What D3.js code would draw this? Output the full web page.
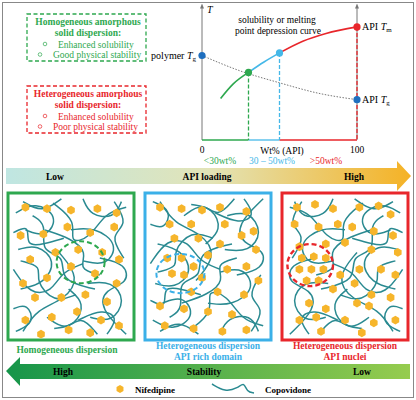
<!DOCTYPE html>
<html><head><meta charset="utf-8">
<script src="https://cdn.jsdelivr.net/npm/d3@7"></script>
<style>body{margin:0;background:#fff}</style>
</head><body><svg id="c" width="416" height="400" font-family="'Liberation Serif','DejaVu Serif','Times New Roman',serif"></svg>
<script>
// ---- data ----
const solubility = [[12,32],[20,43],[30,52],[40,60],[50,67],[65,76],[80,82],[100,87]];
const tgLine = [[0,65],[25,53],[50,44],[75,36],[100,31]];
const keyPoints = [
  {w:0,t:65,c:"#1f6fbf",label:"polymer ",sub:"g",side:"left"},
  {w:30,t:52,c:"#2ea84f"},
  {w:50,t:67,c:"#45b8e8"},
  {w:100,t:87,c:"#e8262b",label:"API ",sub:"m",side:"right"},
  {w:100,t:31,c:"#1f6fbf",label:"API ",sub:"g",side:"right"}];
const ranges = [{from:0,to:30,c:"#2ea84f",label:"<30wt%",lx:220},{from:30,to:50,c:"#45b8e8",label:"30 – 50wt%",lx:272},{from:50,to:100,c:"#e8262b",label:">50wt%",lx:326}];
const loadingLabels = ["Low","API loading","High"];
const stabilityLabels = ["High","Stability","Low"];
const panels = [
 {c:"#2ea84f",cap:["Homogeneous dispersion"],ring:[58,47,20,15]},
 {c:"#3bb0e8",cap:["Heterogeneous dispersion","API rich domain"],ring:[27,55,20,14]},
 {c:"#e8262b",cap:["Heterogeneous dispersion","API nuclei"],ring:[21,49,19,15]}];
const hexes = [
 [[12,8],[30,9],[50,10],[72,9],[88,12],[8,28],[27,27],[47,22],[66,26],[86,22],[16,45],[37,40],[56,38],[76,40],[90,45],[10,62],[30,58],[50,50],[70,55],[88,62],[20,72],[42,72],[62,70],[80,75],[12,88],[34,86],[55,82],[75,88],[90,92],[25,98],[48,95],[66,97]],
 [[10,8],[28,9],[45,10],[60,8],[82,11],[18,20],[36,20],[64,20],[88,25],[22,30],[42,30],[60,34],[78,28],[90,38],[50,42],[16,44],[28,44],[38,50],[20,55],[30,56],[45,58],[66,52],[82,50],[92,60],[36,68],[58,68],[80,70],[10,78],[30,80],[50,82],[70,84],[14,92],[38,94],[62,96],[82,95]],
 [[10,8],[25,6],[40,9],[62,8],[78,7],[88,13],[8,20],[28,22],[44,20],[56,22],[74,25],[90,28],[12,36],[34,34],[50,33],[72,38],[94,40],[14,44],[24,43],[34,44],[12,52],[22,52],[32,52],[18,60],[28,60],[46,56],[62,52],[80,52],[92,56],[40,66],[58,62],[72,70],[88,72],[60,76],[70,78],[20,76],[34,80],[12,88],[26,86],[50,88],[74,90],[92,88],[30,96],[64,97]]];
const chains = [
 [[4,12],[20,4],[40,14],[30,30],[12,24]],
 [[35,5],[55,18],[48,34],[66,30],[78,12],[96,8]],
 [[6,38],[22,34],[38,46],[28,62],[8,66]],
 [[50,24],[70,22],[90,34],[80,50],[60,46]],
 [[40,40],[58,58],[44,74],[22,80],[10,96]],
 [[64,62],[84,60],[96,74],[84,90],[66,86]],
 [[30,86],[46,96],[58,84],[72,98]],
 [[2,52],[16,70],[34,68],[42,54],[60,48]],
 [[86,4],[98,20],[82,28],[94,44]],
 [[48,66],[62,76],[54,92],[36,94]],
 [[18,14],[30,20],[24,40],[46,42],[40,60],[70,66]],
 [[2,80],[14,76],[20,90],[4,96]],
 [[60,2],[66,14],[86,16],[92,4]],
 [[74,44],[96,48],[98,62],[78,66],[74,80],[96,98]],
 [[8,46],[26,50],[20,60],[36,76],[54,70]],
 [[42,2],[26,12],[10,4]],
 [[56,88],[76,80],[90,86],[80,98]],
 [[28,24],[50,30],[64,40],[56,52],[74,56]],
 [[2,26],[16,20],[12,36],[28,34],[44,30]]];

// ---- drawing ----
const svg = d3.select("#c");
svg.append("rect").attr("x",2.5).attr("y",2.5).attr("width",411).attr("height",395).attr("fill","none").attr("stroke","#888").attr("stroke-width",1);

const x = d3.scaleLinear().domain([0,100]).range([202,357]);
const y = d3.scaleLinear().domain([0,100]).range([140,10]);
const defs = svg.append("defs");
defs.append("marker").attr("id","ah").attr("viewBox","0 0 10 10").attr("refX",5).attr("refY",5).attr("markerWidth",5).attr("markerHeight",5).attr("orient","auto")
 .append("path").attr("d","M0,1L10,5L0,9Z").attr("fill","#777");
[0,100].forEach(v=>svg.append("line").attr("x1",x(v)).attr("x2",x(v)).attr("y1",y(0)).attr("y2",6).attr("stroke","#777").attr("stroke-width",1).attr("marker-end","url(#ah)"));
svg.append("text").attr("x",207).attr("y",13).attr("font-size",10).attr("font-style","italic").text("T");
ranges.forEach(r=>{
 svg.append("line").attr("x1",x(r.from)).attr("x2",x(r.to)).attr("y1",y(0)).attr("y2",y(0)).attr("stroke",r.c).attr("stroke-width",1.3);
 svg.append("text").attr("x",r.lx).attr("y",164).attr("text-anchor","middle").attr("font-size",9.5).attr("fill",r.c).text(r.label);
});
[[30,52,"#2ea84f"],[50,67,"#45b8e8"],[100,87,"#e8262b"]].forEach(d=>svg.append("line").attr("x1",x(d[0])).attr("x2",x(d[0])).attr("y1",y(d[1])).attr("y2",y(0)).attr("stroke",d[2]).attr("stroke-width",1.3).attr("stroke-dasharray","4,2"));
const ln = d3.line().x(d=>x(d[0])).y(d=>y(d[1])).curve(d3.curveMonotoneX);
svg.append("path").attr("d",ln(tgLine)).attr("fill","none").attr("stroke","#777").attr("stroke-width",1).attr("stroke-dasharray","1.5,1.5");
const seg=(a,b,c)=>svg.append("path").attr("d",ln(solubility.filter(d=>d[0]>=a&&d[0]<=b))).attr("fill","none").attr("stroke",c).attr("stroke-width",1.6);
seg(0,30,"#2ea84f");seg(30,50,"#45b8e8");seg(50,100,"#e8262b");
keyPoints.forEach(p=>{
 svg.append("circle").attr("cx",x(p.w)).attr("cy",y(p.t)).attr("r",3.6).attr("fill",p.c);
 if(p.label){const t=svg.append("text").attr("font-size",10).attr("y",y(p.t)+3.5);
  if(p.side=="left") t.attr("x",x(p.w)-6).attr("text-anchor","end"); else t.attr("x",x(p.w)+5);
  t.append("tspan").text(p.label);t.append("tspan").attr("font-style","italic").text("T");t.append("tspan").attr("font-size",7).attr("dy",2).text(p.sub);}
});
svg.append("text").attr("x",277).attr("y",23).attr("text-anchor","middle").attr("font-size",9.5).text("solubility or melting");
svg.append("text").attr("x",278).attr("y",34).attr("text-anchor","middle").attr("font-size",9.5).text("point depression curve");
svg.append("text").attr("x",x(0)).attr("y",153).attr("text-anchor","middle").attr("font-size",9.5).text("0");
svg.append("text").attr("x",x(100)).attr("y",153).attr("text-anchor","middle").attr("font-size",9.5).text("100");
svg.append("text").attr("x",282).attr("y",154).attr("text-anchor","middle").attr("font-size",9.5).text("Wt% (API)");

const boxes=[{y:14,c:"#2ea84f",t:["Homogeneous amorphous","solid dispersion:"],i:["Enhanced solubility","Good physical stability"]},
 {y:86,c:"#e8262b",t:["Heterogeneous amorphous","solid dispersion:"],i:["Enhanced solubility","Poor physical stability"]}];
boxes.forEach(b=>{
 svg.append("rect").attr("x",27).attr("y",b.y).attr("width",119).attr("height",47).attr("fill","none").attr("stroke",b.c).attr("stroke-width",1.3).attr("stroke-dasharray","4,2.5");
 b.t.forEach((s,i)=>svg.append("text").attr("x",88).attr("y",b.y+11+i*11).attr("text-anchor","middle").attr("font-size",9.5).attr("font-weight","bold").attr("fill",b.c).text(s));
 b.i.forEach((s,i)=>{svg.append("circle").attr("cx",i?40:45).attr("cy",b.y+30+i*10.5).attr("r",1.8).attr("fill","none").attr("stroke",b.c).attr("stroke-width",0.7);
  svg.append("text").attr("x",i?53:58).attr("y",b.y+33.5+i*10.5).attr("font-size",9.5).attr("fill",b.c).text(s);});
});

const g1=defs.append("linearGradient").attr("id","g1");
g1.append("stop").attr("offset","0").attr("stop-color","#bfe6e2");g1.append("stop").attr("offset","0.5").attr("stop-color","#e2e4b8");g1.append("stop").attr("offset","1").attr("stop-color","#f5b225");
svg.append("path").attr("d","M6,168H397V161L411,176L397,191V184H6Z").attr("fill","url(#g1)");
loadingLabels.forEach((s,i)=>svg.append("text").attr("x",[55,207,354][i]).attr("y",180).attr("text-anchor","middle").attr("font-size",9.5).attr("font-weight","bold").text(s));
const g2=defs.append("linearGradient").attr("id","g2");
g2.append("stop").attr("offset","0").attr("stop-color","#16954a");g2.append("stop").attr("offset","1").attr("stop-color","#96cc4e");
svg.append("path").attr("d","M6,371L20,357V364H410V379H20V386Z").attr("fill","url(#g2)");
stabilityLabels.forEach((s,i)=>svg.append("text").attr("x",[63,204,362][i]).attr("y",375).attr("text-anchor","middle").attr("font-size",9.5).attr("font-weight","bold").text(s));

const hexPath=(cx,cy,r)=>d3.range(6).map(k=>{const a=Math.PI/3*k+Math.PI/6;return [cx+r*Math.cos(a),cy+r*Math.sin(a)];});
const px=[8,145,282];
panels.forEach((p,i)=>{
 const g=svg.append("g");
 const sx=d3.scaleLinear().domain([0,100]).range([px[i]+3,px[i]+123]);
 const sy=d3.scaleLinear().domain([0,100]).range([196,337]);
 const cx=d=>sx(i==2?100-d[0]:d[0]), cy=d=>sy(i==1?100-d[1]:d[1]);
 const cl=d3.line().x(cx).y(cy).curve(d3.curveBasis);
 g.append("rect").attr("x",px[i]).attr("y",193).attr("width",126).attr("height",147).attr("fill","#fff").attr("stroke",p.c).attr("stroke-width",3);
 chains.forEach(c=>g.append("path").attr("d",cl(c)).attr("fill","none").attr("stroke","#2a8a91").attr("stroke-width",1.5));
 hexes[i].forEach(h=>g.append("polygon").attr("points",hexPath(sx(h[0]),sy(h[1]),4.4).join(" ")).attr("fill","#f6b52b"));
 g.append("ellipse").attr("cx",sx(p.ring[0])).attr("cy",sy(p.ring[1])).attr("rx",p.ring[2]*1.2).attr("ry",p.ring[3]*1.4).attr("fill","none").attr("stroke",p.c).attr("stroke-width",i==2?2.4:2).attr("stroke-dasharray","5,3");
 p.cap.forEach((s,k)=>svg.append("text").attr("x",px[i]+63+(i==0?-4:0)).attr("y",(p.cap.length==1?353:349)+k*10.5).attr("text-anchor","middle").attr("font-size",9.5).attr("font-weight","bold").attr("fill",p.c).text(s));
});

svg.append("polygon").attr("points",hexPath(120,389,4).join(" ")).attr("fill","#f6b52b");
svg.append("text").attr("x",135).attr("y",393).attr("font-size",9).attr("font-weight","bold").text("Nifedipine");
svg.append("path").attr("d",d3.line().curve(d3.curveBasis)([[212,384],[225,392],[238,388],[244,382],[247,392],[254,393]])).attr("fill","none").attr("stroke","#2a8a91").attr("stroke-width",1.5);
svg.append("text").attr("x",265).attr("y",393).attr("font-size",9).attr("font-weight","bold").text("Copovidone");
</script></body></html>
